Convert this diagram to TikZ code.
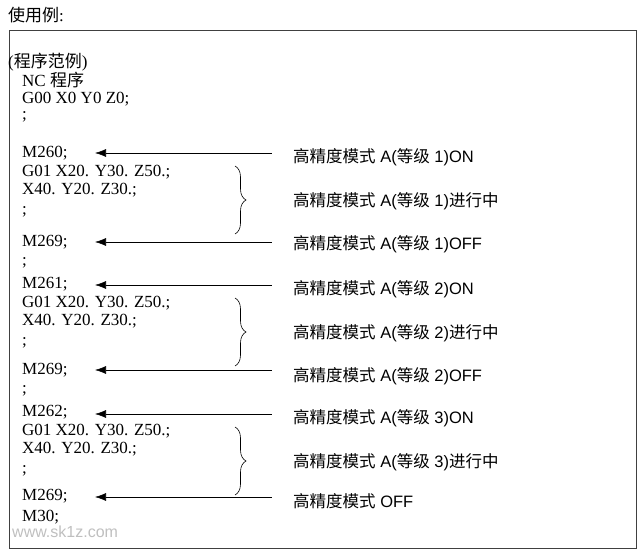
\documentclass[tikz,border=0pt]{standalone}
\usepackage{fontspec}
\setmainfont{Liberation Serif}
\newfontfamily\cjk{Noto Sans CJK SC}
\newfontfamily\lbl{Liberation Sans}
\usetikzlibrary{decorations.pathreplacing,arrows.meta}
\begin{document}
\begin{tikzpicture}[x=1pt,y=-1pt,
  code/.style={anchor=west,inner sep=0pt,font=\fontsize{17}{17}\selectfont},
  note/.style={anchor=west,inner sep=0pt,font=\lbl\fontsize{16.5}{17}\selectfont},
  pointer/.style={{Latex[length=11pt,width=8pt]}-,semithick}]

  % Marco
  \useasboundingbox (0,0) rectangle (640,556);
  \node[code] (title) at (8,15) {{\cjk 使用例}:};
  \draw[thick,draw=black!75] (9,30) rectangle (636,548);

  % Programa
  \node[code] (head) at (8,62) {({\cjk 程序范例})};
  \node[code] (nc) at (22,80) {NC {\cjk 程序}};
  \node[code] (g00) at (22,99) {G00 X0 Y0 Z0;};
  \node[code] at (22,117) {;};
  \foreach \n/\m/\y in {a/M260/153, b/M261/284, c/M262/412} {
    \node[code] (on\n) at (22,\y) {\m;};
    \node[code] at (22,\y+19) {G01 X20. Y30. Z50.;};
    \node[code] at (22,\y+37) {X40. Y20. Z30.;};
    \node[code] at (22,\y+59) {;};
  }
  \node[code] (offa) at (22,242) {M269;};
  \node[code] at (22,263) {;};
  \node[code] (offb) at (22,370) {M269;};
  \node[code] at (22,391) {;};
  \node[code] (offc) at (22,496) {M269;};
  \node[code] (m30) at (22,517) {M30;};

  % Comentarios
  \foreach \n/\k/\y/\t in {a/1/157/ON, b/2/289/ON, c/3/418/ON} {
    \node[note] (lon\n) at (293,\y) {{\cjk 高精度模式} A({\cjk 等级} \k)\t};
    \node[note] (lrun\n) at (293,\y+44) {{\cjk 高精度模式} A({\cjk 等级} \k){\cjk 进行中}};
    \coordinate (s\n) at (272,\y-4);
    \draw[pointer] (95,\y-4) -- (s\n);
    \draw[semithick,decorate,decoration={brace,amplitude=11pt}]
      (235,\y+9) -- (235,\y+77);
  }
  \node[note] (loffa) at (293,244) {{\cjk 高精度模式} A({\cjk 等级} 1)OFF};
  \node[note] (loffb) at (293,376) {{\cjk 高精度模式} A({\cjk 等级} 2)OFF};
  \node[note] (loffc) at (293,501) {{\cjk 高精度模式} OFF};
  \foreach \n/\y in {a/242, b/370, c/497} {
    \coordinate (t\n) at (272,\y);
    \draw[pointer] (95,\y) -- (t\n);
  }

  % Marca de agua
  \node[anchor=west,inner sep=0pt,text=black!25,font=\lbl\fontsize{16}{16}\selectfont] (wm) at (12,532) {www.sk1z.com};
\end{tikzpicture}
\end{document}
